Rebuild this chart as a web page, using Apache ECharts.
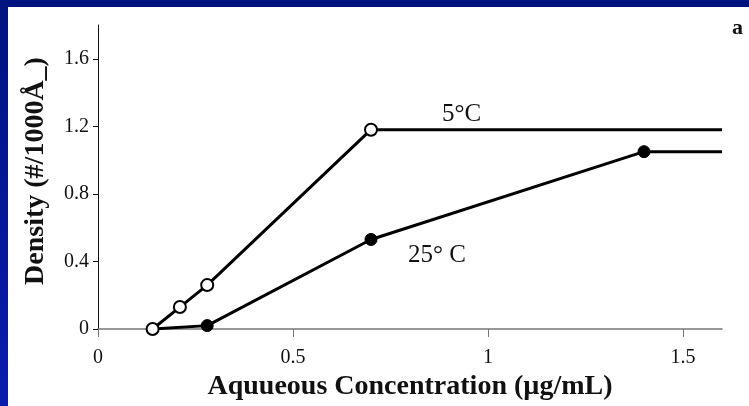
<!DOCTYPE html>
<html>
<head>
<meta charset="utf-8">
<script src="https://cdn.jsdelivr.net/npm/echarts@6/dist/echarts.min.js"></script>
<style>
  html, body { margin: 0; padding: 0; background: #fff; }
  #main { width: 749px; height: 406px; }
</style>
</head>
<body>
<div id="main"></div>
<script>
// values
var cold_x = [0.14, 0.21, 0.28, 0.70, 1.60];
var cold_y = [0, 0.13, 0.26, 1.18, 1.18];
var warm_x = [0.14, 0.28, 0.70, 1.40, 1.60];
var warm_y = [0, 0.02, 0.53, 1.05, 1.05];
var xTicks = [0, 0.5, 1, 1.5];
var yTicks = [0, 0.4, 0.8, 1.2, 1.6];

var serif = '"Liberation Serif", "DejaVu Serif", serif';

function pts(xs, ys, hide) {
    var out = [];
    for (var i = 0; i < xs.length; i++) {
        var p = {value: [xs[i], ys[i]]};
        if (hide.indexOf(i) >= 0) p.symbol = 'none';
        out.push(p);
    }
    return out;
}

var myChart = echarts.init(document.getElementById('main'));
myChart.setOption({
    backgroundColor: '#fff',
    animation: false,
    grid: {left: 98, top: 25, right: 27, bottom: 77},
    xAxis: {
        type: 'value',
        min: 0,
        max: 1.6,
        interval: 0.5,
        name: 'Aquueous Concentration (µg/mL)',
        nameLocation: 'middle',
        nameGap: 36,
        nameTextStyle: {fontFamily: serif, fontSize: 28, fontWeight: 'bold', color: '#111'},
        splitLine: {show: false},
        axisLine: {lineStyle: {color: '#777', width: 1.5}},
        axisTick: {customValues: xTicks, length: 8, lineStyle: {color: '#777'}},
        axisLabel: {customValues: xTicks, fontFamily: serif, fontSize: 20, color: '#111', margin: 19}
    },
    yAxis: {
        type: 'value',
        min: 0,
        max: 1.8,
        interval: 0.4,
        name: 'Density (#/1000Å_)',
        nameLocation: 'middle',
        nameGap: 48,
        nameTextStyle: {fontFamily: serif, fontSize: 28, fontWeight: 'bold', color: '#111', padding: [0, 0, 0, 12]},
        splitLine: {show: false},
        axisLine: {lineStyle: {color: '#111', width: 1}},
        axisTick: {customValues: yTicks, length: 5, lineStyle: {color: '#111'}},
        axisLabel: {customValues: yTicks, fontFamily: serif, fontSize: 20, color: '#111', margin: 9}
    },
    series: [{
        name: '25° C',
        type: 'line',
        z: 2,
        symbol: 'circle',
        symbolSize: 12,
        itemStyle: {color: '#000', borderColor: '#000', borderWidth: 1},
        lineStyle: {color: '#000', width: 3},
        data: pts(warm_x, warm_y, [0, 4])
    }, {
        name: '5°C',
        type: 'line',
        z: 3,
        symbol: 'circle',
        symbolSize: 12,
        itemStyle: {color: '#fff', borderColor: '#000', borderWidth: 2},
        lineStyle: {color: '#000', width: 3},
        data: pts(cold_x, cold_y, [4])
    }],
    graphic: [
        {type: 'rect', left: 0, top: 0, shape: {width: 749, height: 7}, style: {fill: '#00137f'}},
        {type: 'rect', left: 0, top: 0, shape: {width: 8, height: 406},
            style: {fill: new echarts.graphic.LinearGradient(0, 0, 0, 1, [
                {offset: 0, color: '#00137f'},
                {offset: 1, color: '#0a1cae'}
            ])}},
        {type: 'text', left: 732, top: 17, style: {text: 'a', font: 'bold 22px ' + serif, fill: '#111'}},
        {type: 'text', left: 442, top: 102, style: {text: '5°C', font: '25px ' + serif, fill: '#111'}},
        {type: 'text', left: 408, top: 243, style: {text: '25° C', font: '25px ' + serif, fill: '#111'}}
    ]
});
</script>
</body>
</html>
